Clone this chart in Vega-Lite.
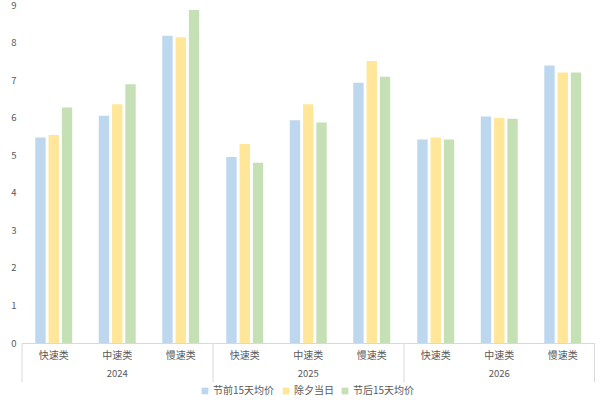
{
  "$schema": "https://vega.github.io/schema/vega-lite/v6.json",
  "padding": {"left": 10, "top": 0, "right": 5, "bottom": 2},
  "background": "white",
  "bounds": "flush",
  "data": {"values": [
    {"year": "2024", "cat": "快速类", "s": "节前15天均价", "v": 5.47},
    {"year": "2024", "cat": "快速类", "s": "除夕当日", "v": 5.54},
    {"year": "2024", "cat": "快速类", "s": "节后15天均价", "v": 6.27},
    {"year": "2024", "cat": "中速类", "s": "节前15天均价", "v": 6.05},
    {"year": "2024", "cat": "中速类", "s": "除夕当日", "v": 6.36},
    {"year": "2024", "cat": "中速类", "s": "节后15天均价", "v": 6.89},
    {"year": "2024", "cat": "慢速类", "s": "节前15天均价", "v": 8.18},
    {"year": "2024", "cat": "慢速类", "s": "除夕当日", "v": 8.14},
    {"year": "2024", "cat": "慢速类", "s": "节后15天均价", "v": 8.87},
    {"year": "2025", "cat": "快速类", "s": "节前15天均价", "v": 4.95},
    {"year": "2025", "cat": "快速类", "s": "除夕当日", "v": 5.30},
    {"year": "2025", "cat": "快速类", "s": "节后15天均价", "v": 4.80},
    {"year": "2025", "cat": "中速类", "s": "节前15天均价", "v": 5.93},
    {"year": "2025", "cat": "中速类", "s": "除夕当日", "v": 6.36},
    {"year": "2025", "cat": "中速类", "s": "节后15天均价", "v": 5.87},
    {"year": "2025", "cat": "慢速类", "s": "节前15天均价", "v": 6.93},
    {"year": "2025", "cat": "慢速类", "s": "除夕当日", "v": 7.51},
    {"year": "2025", "cat": "慢速类", "s": "节后15天均价", "v": 7.09},
    {"year": "2026", "cat": "快速类", "s": "节前15天均价", "v": 5.42},
    {"year": "2026", "cat": "快速类", "s": "除夕当日", "v": 5.47},
    {"year": "2026", "cat": "快速类", "s": "节后15天均价", "v": 5.42},
    {"year": "2026", "cat": "中速类", "s": "节前15天均价", "v": 6.03},
    {"year": "2026", "cat": "中速类", "s": "除夕当日", "v": 5.99},
    {"year": "2026", "cat": "中速类", "s": "节后15天均价", "v": 5.97},
    {"year": "2026", "cat": "慢速类", "s": "节前15天均价", "v": 7.39},
    {"year": "2026", "cat": "慢速类", "s": "除夕当日", "v": 7.20},
    {"year": "2026", "cat": "慢速类", "s": "节后15天均价", "v": 7.20}
  ]},
  "facet": {
    "column": {
      "field": "year", "type": "ordinal",
      "header": {"labelOrient": "bottom", "title": null, "labelFontSize": 9.5, "labelColor": "#595959", "labelPadding": 9, "labelFont": "Noto Sans CJK SC"}
    }
  },
  "spacing": 0,
  "spec": {
    "width": 190.5,
    "height": 338,
    "encoding": {
      "x": {
        "field": "cat", "type": "nominal", "sort": ["快速类", "中速类", "慢速类"],
        "scale": {"paddingInner": 0, "paddingOuter": 0},
        "axis": {
          "title": null, "labelAngle": 0, "labelFontSize": 10, "labelColor": "#595959", "labelPadding": 7,
          "domainColor": "#d9d9d9", "ticks": false
        }
      },
      "y": {
        "field": "v", "type": "quantitative",
        "scale": {"domain": [0, 9]},
        "axis": {"title": null, "values": [0,1,2,3,4,5,6,7,8,9], "grid": false, "domain": false, "ticks": false, "labelFontSize": 9.5, "labelColor": "#595959", "labelPadding": 6}
      }
    },
    "layer": [
      {
        "mark": {"type": "bar"},
        "encoding": {
          "xOffset": {"field": "s", "type": "nominal", "sort": ["节前15天均价", "除夕当日", "节后15天均价"], "scale": {"paddingInner": 0.22, "paddingOuter": 1.03}},
          "color": {
            "field": "s", "type": "nominal", "sort": ["节前15天均价", "除夕当日", "节后15天均价"],
            "scale": {"range": ["#BDD7EE", "#FFE699", "#C5E0B4"]},
            "legend": {"title": null, "orient": "none", "legendX": 178, "legendY": 381, "direction": "horizontal", "symbolType": "square", "symbolSize": 45, "symbolStrokeWidth": 0, "labelFontSize": 10, "labelColor": "#595959", "columnPadding": 6, "labelOffset": 3}
          }
        }
      },
      {
        "transform": [{"filter": "datum.cat === '快速类' && datum.s === '节前15天均价'"}],
        "mark": {"type": "rule", "color": "#d9d9d9", "strokeWidth": 1},
        "encoding": {
          "x": {"field": "cat", "type": "nominal", "bandPosition": 0},
          "y": {"datum": 0, "type": "quantitative"},
          "y2": {"datum": -1.05}
        }
      },
      {
        "transform": [{"filter": "datum.year === '2026' && datum.cat === '慢速类' && datum.s === '节前15天均价'"}],
        "mark": {"type": "rule", "color": "#d9d9d9", "strokeWidth": 1},
        "encoding": {
          "x": {"field": "cat", "type": "nominal", "bandPosition": 1},
          "y": {"datum": 0, "type": "quantitative"},
          "y2": {"datum": -1.05}
        }
      }
    ]
  },
  "config": {
    "view": {"stroke": null},
    "font": "Noto Sans CJK SC"
  }
}
